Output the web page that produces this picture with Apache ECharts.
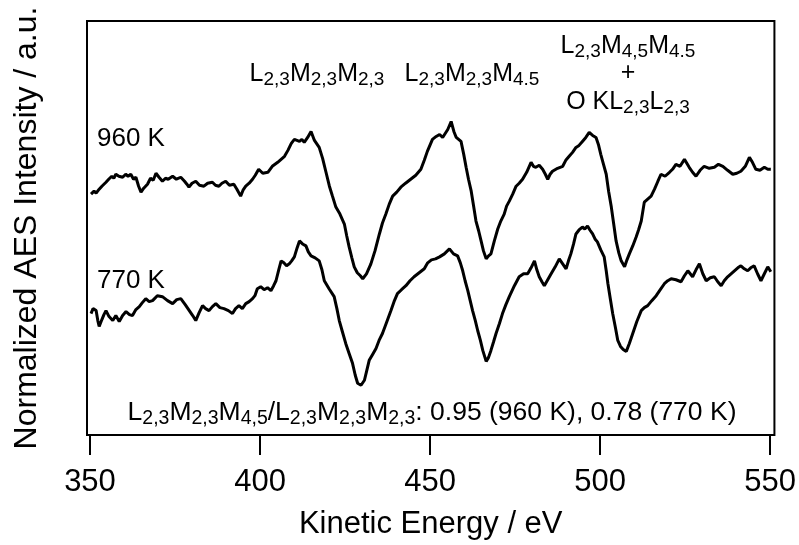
<!DOCTYPE html>
<html>
<head>
<meta charset="utf-8">
<script src="https://cdn.jsdelivr.net/npm/echarts@6/dist/echarts.min.js"></script>
<style>html,body{margin:0;padding:0;background:#fff}#c{width:799px;height:545px}</style>
</head>
<body>
<div id="c"></div>
<script>
// Kinetic energy (eV) and normalized intensity (a.u.)
const energy960 = [350.3,351.2,351.8,352.7,353.5,354.0,354.7,355.5,356.4,357.0,357.6,358.5,359.6,360.5,361.2,362.0,362.8,363.5,364.3,365.0,365.8,366.9,367.8,368.6,369.4,370.3,371.3,372.2,373.0,374.3,375.4,376.7,377.8,378.5,379.1,380.0,381.1,382.2,383.5,384.6,386.0,386.9,387.9,388.8,389.9,391.0,392.3,393.2,394.3,395.0,395.8,396.8,397.8,398.6,399.6,400.8,402.3,403.6,405.2,406.2,407.2,408.2,409.2,410.1,411.6,412.3,413.0,414.0,415.0,416.0,417.4,418.4,419.4,420.4,421.3,422.3,423.5,424.8,425.5,426.2,427.0,427.7,428.6,429.5,430.2,431.3,432.6,433.8,435.1,436.0,437.0,438.0,439.0,440.2,441.4,442.8,444.3,445.8,447.3,448.3,449.2,450.7,451.8,452.8,453.7,455.2,456.2,457.0,457.7,459.1,459.9,460.6,461.3,462.1,462.8,463.5,464.3,465.0,465.7,466.5,467.2,467.9,468.9,469.9,470.8,471.8,472.5,473.3,474.3,475.3,476.2,477.2,478.4,479.7,480.4,481.1,482.1,483.1,483.9,484.6,485.3,486.0,487.5,489.0,489.9,490.9,491.9,492.9,493.8,494.8,495.8,496.8,497.8,498.8,499.5,500.2,501.0,501.8,502.5,503.3,504.0,504.7,505.5,506.2,507.2,507.9,508.6,509.6,510.6,511.3,512.1,513.0,514.0,515.0,516.0,517.0,517.9,519.1,520.4,521.3,522.3,523.5,524.8,525.5,526.2,527.2,528.2,529.4,530.6,532.1,533.6,534.8,536.1,537.5,539.0,540.2,541.4,542.7,543.9,544.8,545.8,547.0,548.3,549.3,550.2];
const int960 = [2.42,2.45,2.43,2.47,2.50,2.48,2.54,2.57,2.60,2.58,2.62,2.60,2.59,2.62,2.60,2.62,2.57,2.59,2.50,2.44,2.48,2.52,2.58,2.56,2.63,2.59,2.55,2.58,2.57,2.60,2.57,2.59,2.55,2.52,2.49,2.53,2.55,2.51,2.50,2.53,2.54,2.51,2.50,2.53,2.55,2.51,2.52,2.47,2.40,2.46,2.50,2.53,2.57,2.61,2.67,2.63,2.64,2.70,2.74,2.77,2.80,2.86,2.93,2.97,2.95,2.97,2.94,2.99,3.05,2.96,2.89,2.78,2.64,2.50,2.40,2.29,2.22,2.12,2.00,1.89,1.78,1.69,1.63,1.60,1.57,1.62,1.72,1.85,2.02,2.13,2.22,2.32,2.40,2.44,2.49,2.53,2.57,2.61,2.67,2.76,2.85,2.97,3.00,3.02,2.99,3.07,3.15,3.05,2.99,2.95,2.82,2.69,2.57,2.45,2.30,2.15,2.05,1.95,1.85,1.77,1.80,1.82,1.95,2.07,2.15,2.22,2.30,2.35,2.42,2.50,2.53,2.57,2.64,2.74,2.70,2.69,2.71,2.67,2.62,2.57,2.62,2.65,2.68,2.70,2.76,2.80,2.84,2.89,2.91,2.95,2.99,3.04,3.01,2.99,2.92,2.82,2.72,2.62,2.45,2.29,2.12,1.95,1.83,1.75,1.69,1.76,1.82,1.90,1.99,2.06,2.15,2.34,2.37,2.40,2.47,2.55,2.62,2.60,2.64,2.67,2.72,2.70,2.77,2.73,2.69,2.64,2.60,2.66,2.70,2.68,2.69,2.72,2.70,2.66,2.62,2.63,2.65,2.70,2.79,2.74,2.67,2.66,2.69,2.67,2.67];
const energy770 = [350.3,350.9,351.8,352.3,352.7,353.5,354.1,354.7,355.6,356.7,357.6,358.6,359.6,360.6,361.6,362.5,363.5,364.5,365.4,366.4,367.4,368.4,369.8,371.3,372.8,374.3,375.5,376.7,378.0,379.2,380.2,381.1,382.1,383.1,384.0,385.0,386.0,387.0,388.2,389.4,390.7,391.9,392.8,393.8,394.8,395.8,396.8,397.8,398.5,399.2,400.2,401.2,402.2,403.2,404.0,404.7,405.5,406.2,407.0,407.8,408.6,409.3,410.1,410.9,411.6,412.5,413.5,414.2,415.0,416.2,417.4,418.2,418.9,420.3,421.8,422.6,423.3,424.2,425.2,426.2,427.2,428.0,428.7,429.7,430.7,431.4,432.1,433.1,434.1,435.0,436.0,437.2,438.5,439.4,440.4,441.6,442.9,444.1,445.3,446.8,448.3,449.3,450.4,451.6,452.8,454.2,455.7,456.9,458.1,458.9,459.6,460.3,461.1,461.8,462.5,463.3,464.0,464.8,465.5,466.5,467.2,467.9,468.7,469.4,470.4,471.3,472.3,473.3,474.8,476.2,477.5,478.7,479.7,480.7,481.4,482.1,482.9,483.6,484.6,485.6,486.8,488.0,489.0,490.0,490.7,491.4,492.2,492.9,493.8,494.8,495.5,496.3,497.0,497.8,498.5,499.2,500.2,501.2,501.8,502.3,503.0,503.7,504.5,505.2,506.0,506.8,507.7,508.6,509.6,510.8,512.1,513.0,514.0,515.2,516.5,517.7,518.9,519.9,520.9,522.3,523.8,524.8,525.8,526.5,527.2,528.2,529.2,530.2,531.2,532.4,533.6,534.6,535.6,536.5,537.5,538.5,539.5,540.5,541.4,542.4,543.4,544.3,545.3,546.3,547.3,548.3,549.3,550.2];
const int770 = [1.22,1.27,1.25,1.15,1.09,1.16,1.21,1.25,1.19,1.15,1.20,1.14,1.20,1.24,1.21,1.20,1.26,1.29,1.33,1.37,1.34,1.35,1.40,1.39,1.35,1.32,1.36,1.37,1.31,1.25,1.20,1.15,1.23,1.30,1.27,1.25,1.29,1.32,1.28,1.27,1.25,1.22,1.27,1.30,1.27,1.32,1.34,1.37,1.40,1.47,1.49,1.46,1.48,1.45,1.50,1.55,1.66,1.75,1.73,1.70,1.72,1.75,1.79,1.88,1.95,1.92,1.90,1.84,1.80,1.78,1.75,1.66,1.55,1.47,1.39,1.27,1.15,1.04,0.92,0.82,0.72,0.60,0.52,0.50,0.55,0.65,0.75,0.81,0.87,0.95,1.02,1.13,1.25,1.34,1.42,1.46,1.50,1.55,1.59,1.63,1.67,1.73,1.76,1.77,1.79,1.82,1.87,1.82,1.80,1.73,1.65,1.55,1.45,1.35,1.25,1.15,1.05,0.95,0.85,0.74,0.78,0.85,0.94,1.02,1.12,1.22,1.31,1.39,1.50,1.59,1.62,1.62,1.68,1.75,1.66,1.59,1.54,1.50,1.56,1.62,1.69,1.77,1.72,1.67,1.75,1.82,1.92,2.02,2.06,2.09,2.07,2.10,2.06,2.02,1.97,1.94,1.86,1.79,1.65,1.52,1.37,1.22,1.08,0.95,0.89,0.86,0.84,0.92,1.02,1.14,1.25,1.28,1.30,1.35,1.40,1.46,1.52,1.55,1.57,1.56,1.54,1.60,1.65,1.62,1.59,1.66,1.72,1.62,1.55,1.58,1.59,1.54,1.50,1.55,1.59,1.62,1.65,1.68,1.70,1.67,1.65,1.68,1.70,1.62,1.55,1.62,1.69,1.64];
const xTicks = [350, 400, 450, 500, 550];
const xTitle = 'Kinetic Energy / eV';
const yTitle = 'Normalized AES Intensity / a.u.';

const FONT = '"Liberation Sans", Arial, Helvetica, sans-serif';
const pairs = (xs, ys) => xs.map((x, i) => [x, ys[i]]);

function label(x, y, text, align, main, sub) {
  main = main || 25; sub = sub || 19;
  return {
    type: 'text', x: x, y: y, silent: true,
    style: { text: text, align: align || 'center', verticalAlign: 'middle',
      fontFamily: FONT, fontSize: main, fill: '#000',
      rich: {
        m: { fontSize: main, fontFamily: FONT, fill: '#000', lineHeight: 31 },
        s: { fontSize: sub, fontFamily: FONT, fill: '#000', lineHeight: sub, padding: [12, 0, 0, 0] }
      } }
  };
}

const chart = echarts.init(document.getElementById('c'), null, { renderer: 'canvas' });
chart.setOption({
  animation: false,
  backgroundColor: '#fff',
  grid: { left: 87, right: 23, top: 21, bottom: 108, show: true, borderColor: '#000', borderWidth: 2, backgroundColor: 'transparent' },
  xAxis: {
    type: 'value', min: 349.12, max: 551.26,
    axisLine: { show: false },
    axisTick: { show: true, inside: false, length: 20, customValues: xTicks, lineStyle: { color: '#000', width: 2 } },
    axisLabel: { customValues: xTicks, fontSize: 31, fontFamily: FONT, color: '#000', margin: 32 },
    splitLine: { show: false },
    name: xTitle, nameLocation: 'middle', nameGap: 74,
    nameTextStyle: { fontSize: 31, fontFamily: FONT, color: '#000' }
  },
  yAxis: {
    type: 'value', min: 0, max: 4.16,
    axisLine: { show: false }, axisTick: { show: false }, axisLabel: { show: false }, splitLine: { show: false },
    name: yTitle, nameLocation: 'middle', nameGap: 44,
    nameTextStyle: { fontSize: 32, fontFamily: FONT, color: '#000' }
  },
  series: [
    { name: '960 K', type: 'line', data: pairs(energy960, int960), showSymbol: false, smooth: false,
      lineStyle: { color: '#000', width: 3 }, emphasis: { disabled: true } },
    { name: '770 K', type: 'line', data: pairs(energy770, int770), showSymbol: false, smooth: false,
      lineStyle: { color: '#000', width: 3 }, emphasis: { disabled: true } }
  ],
  graphic: [
    label(317, 74, '{m|L}{s|2,3}{m|M}{s|2,3}{m|M}{s|2,3}'),
    label(472, 74, '{m|L}{s|2,3}{m|M}{s|2,3}{m|M}{s|4.5}'),
    label(628, 46, '{m|L}{s|2,3}{m|M}{s|4,5}{m|M}{s|4.5}'),
    label(628, 73, '{m|+}'),
    label(628, 102, '{m|O KL}{s|2,3}{m|L}{s|2,3}'),
    label(97, 139, '{m|960 K}', 'left', 26, 19),
    label(97, 281, '{m|770 K}', 'left', 26, 19),
    label(432, 413, '{m|L}{s|2,3}{m|M}{s|2,3}{m|M}{s|4,5}{m|/L}{s|2,3}{m|M}{s|2,3}{m|M}{s|2,3}{m|: 0.95 (960 K), 0.78 (770 K)}', 'center', 26.5, 19.5)
  ]
});
</script>
</body>
</html>
